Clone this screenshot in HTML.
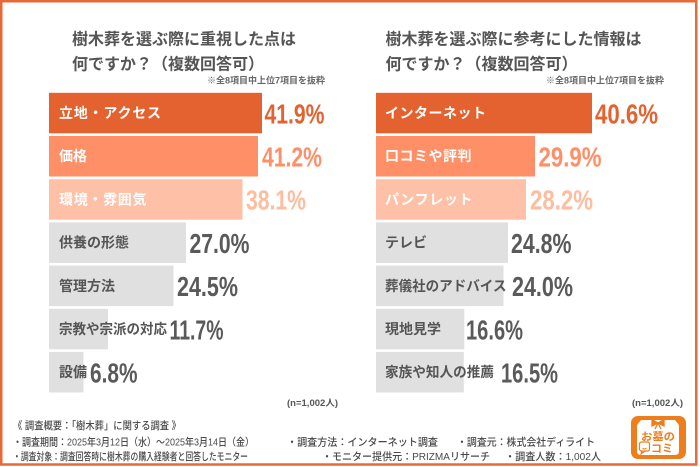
<!DOCTYPE html>
<html lang="ja">
<head>
<meta charset="utf-8">
<style>
  html,body{margin:0;padding:0;background:#fff;}
  body{width:700px;height:467px;overflow:hidden;}
  svg{display:block;}
  text{font-family:"Liberation Sans","Noto Sans CJK JP",sans-serif;}
  .ttl{font-size:16px;font-weight:bold;fill:#555;}
  .sub{font-size:9px;font-weight:bold;fill:#666;}
  .lbl{font-size:14px;font-weight:bold;}
  .val{font-size:28px;font-weight:600;}
  .note{font-size:10.5px;fill:#4a4a4a;font-weight:500;}
  .n{font-size:9px;font-weight:bold;fill:#555;}
</style>
</head>
<body>
<svg width="700" height="467" viewBox="0 0 700 467" xmlns="http://www.w3.org/2000/svg">
  <rect x="0" y="0" width="700" height="467" fill="#fff"/>
  <rect x="1.25" y="1.25" width="695" height="463.25" fill="none" stroke="#e8683a" stroke-width="2.5"/>

  <!-- LEFT TITLE -->
  <text class="ttl" x="72" y="44.5">樹木葬を選ぶ際に重視した点は</text>
  <text class="ttl" x="72" y="69.5">何ですか？（複数回答可）</text>
  <text class="sub" x="207" y="83.5">※全8項目中上位7項目を抜粋</text>

  <!-- LEFT BARS -->
  <rect x="49" y="92.8" width="213" height="40.5" fill="#e4622f"/>
  <rect x="49" y="136" width="209" height="40.5" fill="#fe8f66"/>
  <rect x="49" y="179.2" width="193.5" height="40.5" fill="#fec0a6"/>
  <rect x="49" y="222.4" width="137" height="40.5" fill="#e0e0e0"/>
  <rect x="49" y="265.6" width="124.5" height="40.5" fill="#e0e0e0"/>
  <rect x="49" y="308.8" width="59" height="40.5" fill="#e0e0e0"/>
  <rect x="49" y="352" width="34.5" height="40.5" fill="#e0e0e0"/>

  <text class="lbl" x="59" y="118" fill="#fff" textLength="102" lengthAdjust="spacing">立地・アクセス</text>
  <text class="lbl" x="59" y="161.2" fill="#fff">価格</text>
  <text class="lbl" x="59" y="204.4" fill="#fff" textLength="87.5" lengthAdjust="spacing">環境・雰囲気</text>
  <text class="lbl" x="59" y="247.6" fill="#555">供養の形態</text>
  <text class="lbl" x="59" y="290.8" fill="#555">管理方法</text>
  <text class="lbl" x="59" y="334" fill="#555" textLength="108" lengthAdjust="spacingAndGlyphs">宗教や宗派の対応</text>
  <text class="lbl" x="59" y="377.2" fill="#555">設備</text>

  <text class="val" x="264.5" y="123.3" fill="#e4622f" textLength="60" lengthAdjust="spacingAndGlyphs">41.9%</text>
  <text class="val" x="262" y="166.5" fill="#fe8f66" textLength="60" lengthAdjust="spacingAndGlyphs">41.2%</text>
  <text class="val" x="246" y="209.7" fill="#fdbd9f" textLength="60" lengthAdjust="spacingAndGlyphs">38.1%</text>
  <text class="val" x="189.5" y="252.9" fill="#5a5a5a" textLength="60" lengthAdjust="spacingAndGlyphs">27.0%</text>
  <text class="val" x="177" y="296.1" fill="#5a5a5a" textLength="61" lengthAdjust="spacingAndGlyphs">24.5%</text>
  <text class="val" x="169.5" y="339.3" fill="#5a5a5a" textLength="54" lengthAdjust="spacingAndGlyphs">11.7%</text>
  <text class="val" x="90" y="382.5" fill="#5a5a5a" textLength="47.5" lengthAdjust="spacingAndGlyphs">6.8%</text>

  <text class="n" x="287" y="406" textLength="51" lengthAdjust="spacingAndGlyphs">(n=1,002人)</text>

  <!-- RIGHT TITLE -->
  <text class="ttl" x="385.5" y="44.5">樹木葬を選ぶ際に参考にした情報は</text>
  <text class="ttl" x="385.5" y="69.5">何ですか？（複数回答可）</text>
  <text class="sub" x="546" y="83.5">※全8項目中上位7項目を抜粋</text>

  <!-- RIGHT BARS -->
  <rect x="376" y="92.8" width="216" height="40.5" fill="#e4622f"/>
  <rect x="376" y="136" width="159" height="40.5" fill="#fe8f66"/>
  <rect x="376" y="179.2" width="150" height="40.5" fill="#fec0a6"/>
  <rect x="376" y="222.4" width="132" height="40.5" fill="#e0e0e0"/>
  <rect x="376" y="265.6" width="127.5" height="40.5" fill="#e0e0e0"/>
  <rect x="376" y="308.8" width="88.3" height="40.5" fill="#e0e0e0"/>
  <rect x="376" y="352" width="87.8" height="40.5" fill="#e0e0e0"/>

  <text class="lbl" x="385" y="118" fill="#fff" textLength="101" lengthAdjust="spacing">インターネット</text>
  <text class="lbl" x="385" y="161.2" fill="#fff" textLength="86.5" lengthAdjust="spacing">口コミや評判</text>
  <text class="lbl" x="385" y="204.4" fill="#fff" textLength="87.5" lengthAdjust="spacing">パンフレット</text>
  <text class="lbl" x="385" y="247.6" fill="#555">テレビ</text>
  <text class="lbl" x="385" y="290.8" fill="#555" textLength="121.5" lengthAdjust="spacingAndGlyphs">葬儀社のアドバイス</text>
  <text class="lbl" x="385" y="334" fill="#555">現地見学</text>
  <text class="lbl" x="385" y="377.2" fill="#555" textLength="109" lengthAdjust="spacingAndGlyphs">家族や知人の推薦</text>

  <text class="val" x="595" y="123.3" fill="#e4622f" textLength="63" lengthAdjust="spacingAndGlyphs">40.6%</text>
  <text class="val" x="538.5" y="166.5" fill="#fe8f66" textLength="63" lengthAdjust="spacingAndGlyphs">29.9%</text>
  <text class="val" x="530" y="209.7" fill="#fdbd9f" textLength="63" lengthAdjust="spacingAndGlyphs">28.2%</text>
  <text class="val" x="511" y="252.9" fill="#5a5a5a" textLength="60.5" lengthAdjust="spacingAndGlyphs">24.8%</text>
  <text class="val" x="512" y="296.1" fill="#5a5a5a" textLength="61" lengthAdjust="spacingAndGlyphs">24.0%</text>
  <text class="val" x="466" y="339.3" fill="#5a5a5a" textLength="57" lengthAdjust="spacingAndGlyphs">16.6%</text>
  <text class="val" x="501" y="382.5" fill="#5a5a5a" textLength="57" lengthAdjust="spacingAndGlyphs">16.5%</text>

  <text class="n" x="632" y="406" textLength="51" lengthAdjust="spacingAndGlyphs">(n=1,002人)</text>

  <!-- NOTES -->
  <text class="note" x="13" y="429" textLength="168" lengthAdjust="spacingAndGlyphs">《 調査概要：「樹木葬」に関する調査 》</text>
  <text class="note" x="13" y="445.5" textLength="241" lengthAdjust="spacingAndGlyphs">・調査期間：2025年3月12日（水）～2025年3月14日（金）</text>
  <text class="note" x="287" y="445.5" textLength="151" lengthAdjust="spacingAndGlyphs">・調査方法：インターネット調査</text>
  <text class="note" x="457" y="445.5" textLength="138" lengthAdjust="spacingAndGlyphs">・調査元：株式会社ディライト</text>
  <text class="note" x="13" y="460" textLength="235" lengthAdjust="spacingAndGlyphs">・調査対象：調査回答時に樹木葬の購入経験者と回答したモニター</text>
  <text class="note" x="322" y="460" textLength="168" lengthAdjust="spacingAndGlyphs">・モニター提供元：PRIZMAリサーチ</text>
  <text class="note" x="505" y="460" textLength="96" lengthAdjust="spacingAndGlyphs">・調査人数：1,002人</text>

  <!-- LOGO -->
  <rect x="631" y="416" width="55" height="43" rx="7" fill="#ef7d1c"/>
  <path d="M641,420 L675,420 L679,425 L679,451 Q679,455 675,455 L641,455 Q637,455 637,451 L637,425 Z" fill="#fff"/>
  <path d="M658,423 L652,419.5 L652,426 Z M658,423 L664,419.5 L664,426 Z M658,423 L655,429 M658,423 L661,429" fill="#ef7d1c" stroke="#ef7d1c" stroke-width="1.3"/>
  <text x="641" y="440" font-size="10.5" font-weight="bold" fill="#ef7d1c" textLength="34" lengthAdjust="spacingAndGlyphs">お墓の</text>
  <rect x="639.5" y="442" width="10" height="9" rx="2" fill="none" stroke="#ef7d1c" stroke-width="1.2"/>
  <path d="M642,451 L641,454 L645,451" fill="none" stroke="#ef7d1c" stroke-width="1.1"/>
  <path d="M642.5,448 Q644.5,450 646.5,448" fill="none" stroke="#ef7d1c" stroke-width="0.9"/>
  <text x="651" y="452" font-size="11" font-weight="bold" fill="#ef7d1c" textLength="22" lengthAdjust="spacingAndGlyphs">コミ</text>
</svg>
</body>
</html>
